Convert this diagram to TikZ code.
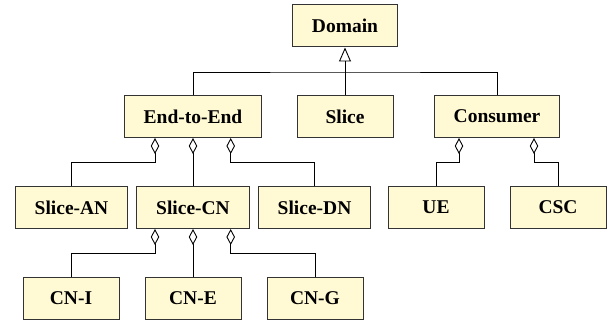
\documentclass[tikz,border=0pt]{standalone}
\usepackage{fontspec}
\setmainfont{Liberation Serif}
\usepackage{tikz}
\usepackage{xcolor}
\usetikzlibrary{arrows.meta}
\definecolor{boxfill}{HTML}{FFFAD4}
\definecolor{boxline}{HTML}{333333}

\begin{document}
\begin{tikzpicture}[x=1pt,y=-1pt,
  box/.style={draw=boxline,line width=1pt,fill=boxfill,minimum height=42pt,inner sep=0pt,
    font=\fontsize{19.5}{22}\selectfont\bfseries},
  gen/.style={line width=0.9pt,-{Triangle[open,length=14pt,width=12pt]}},
  agg/.style={line width=0.9pt,-{Diamond[open,length=16pt,width=8.5pt]}}]
\useasboundingbox (0,0) rectangle (608,326);
\node[box,minimum width=105pt] (domain) at (345,26) {Domain};
\node[box,minimum width=137pt] (e2e) at (193,116.5) {End-to-End};
\node[box,minimum width=96pt] (slice) at (345,116.5) {Slice};
\node[box,minimum width=125pt] (consumer) at (497,116.5) {Consumer};
\node[box,minimum width=112pt] (slicean) at (71.5,207.5) {Slice-AN};
\node[box,minimum width=113pt] (slicecn) at (193,207.5) {Slice-CN};
\node[box,minimum width=112pt] (slicedn) at (314.5,207.5) {Slice-DN};
\node[box,minimum width=96pt] (ue) at (436,207.5) {UE};
\node[box,minimum width=96pt] (csc) at (558,207.5) {CSC};
\node[box,minimum width=96pt] (cni) at (71,298) {CN-I};
\node[box,minimum width=96pt] (cne) at (193,298) {CN-E};
\node[box,minimum width=96pt] (cng) at (315,298) {CN-G};
\coordinate (bar) at (345,72);
\draw [gen] (slice) -- (domain);
\draw [line width=0.9pt] (e2e.north) |- (bar) -| (consumer.north);
\draw [agg] (slicean.north) |- ([xshift=-38pt,yshift=-24pt]e2e.south) -- ([xshift=-38pt]e2e.south);
\draw [agg] (slicecn) -- (e2e);
\draw [agg] (slicedn.north) |- ([xshift=37.7pt,yshift=-24pt]e2e.south) -- ([xshift=37.7pt]e2e.south);
\draw [agg] (ue.north) |- ([xshift=-38pt,yshift=-24pt]consumer.south) -- ([xshift=-38pt]consumer.south);
\draw [agg] (csc.north) |- ([xshift=37pt,yshift=-24pt]consumer.south) -- ([xshift=37pt]consumer.south);
\draw [agg] (cni.north) |- ([xshift=-38pt,yshift=-24pt]slicecn.south) -- ([xshift=-38pt]slicecn.south);
\draw [agg] (cne) -- (slicecn);
\draw [agg] (cng.north) |- ([xshift=37.7pt,yshift=-24pt]slicecn.south) -- ([xshift=37.7pt]slicecn.south);
\end{tikzpicture}
\end{document}
